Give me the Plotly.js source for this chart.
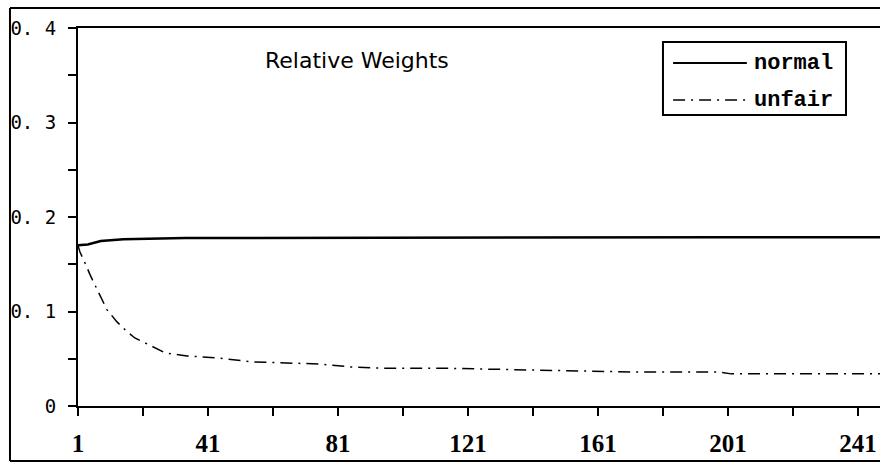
<!DOCTYPE html>
<html>
<head>
<meta charset="utf-8">
<script src="https://cdn.plot.ly/plotly-3.0.1.min.js"></script>
<style>html,body{margin:0;padding:0;background:#fff;}#chart{width:880px;height:464px;}</style>
</head>
<body>
<div id="chart"></div>
<script>
// Data
const normalX = [1, 4, 8, 15, 34, 60, 100, 150, 200, 248];
const normalY = [0.170, 0.171, 0.1745, 0.1765, 0.1778, 0.178, 0.1785, 0.1785, 0.1785, 0.1785];
const unfairX = [1, 1.6, 3.2, 4.7, 7.2, 9.9, 13, 16, 18.5, 23, 28, 34.5, 43.7, 55, 65, 75.5, 85, 95, 113, 140, 171, 198, 202, 248];
const unfairY = [0.170, 0.163, 0.151, 0.139, 0.121, 0.102, 0.089, 0.079, 0.072, 0.0645, 0.056, 0.053, 0.051, 0.0466, 0.0455, 0.0444, 0.0413, 0.040, 0.040, 0.038, 0.036, 0.036, 0.034, 0.034];
const seriesNames = ['normal', 'unfair'];
const chartTitle = 'Relative Weights';
const xTickVals = [1, 21, 41, 61, 81, 101, 121, 141, 161, 181, 201, 221, 241];
const xTickText = ['1', '', '41', '', '81', '', '121', '', '161', '', '201', '', '241'];
const yTickVals = [0, 0.05, 0.1, 0.15, 0.2, 0.25, 0.3, 0.35, 0.4];
const yTickText = ['0', '', '0. 1', '', '0. 2', '', '0. 3', '', '0. 4'];

const traces = [
  {x: normalX, y: normalY, type: 'scatter', mode: 'lines', name: seriesNames[0],
   line: {color: '#000', width: 2.5}},
  {x: unfairX, y: unfairY, type: 'scatter', mode: 'lines', name: seriesNames[1],
   line: {color: '#000', width: 1.5, dash: '12px,6px,2px,6px'}}
];

const frameL = -0.0848, frameR = 1.02, frameT = 1.0529, frameB = -0.1455;

const layout = {
  width: 880, height: 464,
  margin: {l: 78, r: 0, t: 28, b: 58},
  paper_bgcolor: '#fff', plot_bgcolor: '#fff',
  showlegend: false,
  xaxis: {
    range: [1, 247.8], showgrid: false, zeroline: false,
    showline: true, linecolor: '#000', linewidth: 2, mirror: true,
    tickmode: 'array', tickvals: xTickVals, ticktext: xTickText,
    ticks: 'outside', ticklen: 8, tickwidth: 2, tickcolor: '#000',
    ticklabelstandoff: 6,
    tickfont: {family: 'Liberation Serif', size: 25, color: '#000', weight: 'bold'}
  },
  yaxis: {
    range: [0, 0.4], showgrid: false, zeroline: false,
    showline: true, linecolor: '#000', linewidth: 2,
    tickmode: 'array', tickvals: yTickVals, ticktext: yTickText,
    ticks: 'outside', ticklen: 8, tickwidth: 2, tickcolor: '#000',
    ticklabelstandoff: 8,
    tickfont: {family: 'DejaVu Sans Mono', size: 19, color: '#000'}
  },
  shapes: [
    // outer frame
    {type: 'line', xref: 'paper', yref: 'paper', x0: frameL, x1: frameL, y0: frameB, y1: frameT, line: {color: '#000', width: 2}},
    {type: 'line', xref: 'paper', yref: 'paper', x0: frameL, x1: frameR, y0: frameT, y1: frameT, line: {color: '#000', width: 2}},
    {type: 'line', xref: 'paper', yref: 'paper', x0: frameL, x1: frameR, y0: frameB, y1: frameB, line: {color: '#000', width: 2}},
    // legend box
    {type: 'rect', xref: 'paper', yref: 'paper', x0: 0.7294, x1: 0.9576, y0: 0.7698, y1: 0.963,
     line: {color: '#000', width: 2}, fillcolor: '#fff'},
    {type: 'line', xref: 'paper', yref: 'paper', x0: 0.742, x1: 0.834, y0: 0.9074, y1: 0.9074,
     line: {color: '#000', width: 2}},
    {type: 'line', xref: 'paper', yref: 'paper', x0: 0.742, x1: 0.834, y0: 0.8095, y1: 0.8095,
     line: {color: '#000', width: 1.5, dash: '12px,6px,2px,6px'}}
  ],
  annotations: [
    {text: chartTitle, xref: 'paper', yref: 'paper', x: 0.348, y: 0.915, showarrow: false,
     xanchor: 'center', yanchor: 'middle', font: {family: 'DejaVu Sans', size: 22, color: '#000'}},
    {text: seriesNames[0], xref: 'paper', yref: 'paper', x: 0.8404, y: 0.9074, showarrow: false,
     xanchor: 'left', yanchor: 'middle', font: {family: 'Liberation Mono', size: 22, color: '#000', weight: 'bold'}},
    {text: seriesNames[1], xref: 'paper', yref: 'paper', x: 0.8404, y: 0.8095, showarrow: false,
     xanchor: 'left', yanchor: 'middle', font: {family: 'Liberation Mono', size: 22, color: '#000', weight: 'bold'}}
  ]
};

Plotly.newPlot('chart', traces, layout, {staticPlot: true, displayModeBar: false});
</script>
</body>
</html>
